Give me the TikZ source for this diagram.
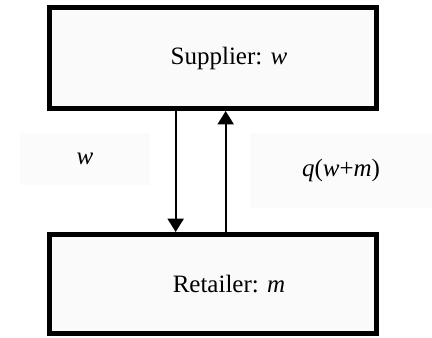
\documentclass[tikz,border=0pt]{standalone}
\usepackage{fontspec}
\setmainfont{Liberation Serif}
\usetikzlibrary{arrows.meta,positioning}

\tikzset{
  agent/.style={draw,line width=3.75pt,fill=black!2,minimum width=245.25pt,inner sep=0pt,font=\fontsize{18.75}{22}\selectfont},
  flowlab/.style={fill=black!1.5,inner sep=0pt,font=\fontsize{18.75}{22}\selectfont},
  flow/.style={line width=1.4pt,-{Triangle[length=10pt,width=12pt]}}
}

\begin{document}
\begin{tikzpicture}[x=0.75pt,y=-0.75pt]
\useasboundingbox (0,0) rectangle (432,337);
% firms
\node[agent,minimum height=75.75pt] (sup) at (213,58) {\hspace*{24pt}Supplier: \textit{w}};
\node[agent,minimum height=74.6pt] (ret) at (213,284.25) {\hspace*{24pt}Retailer: \textit{m}};
% flows between them
\draw[flow] ([xshift=-28pt]sup.south) -- ([xshift=-28pt]ret.north);
\draw[flow] ([xshift=9.5pt]ret.north) -- ([xshift=9.5pt]sup.south);
\node[flowlab,minimum width=97.5pt,minimum height=39pt] (wlab) at (85,159) {\textit{w}};
\node[flowlab,minimum width=136.5pt,minimum height=56pt] (qlab) at (341,170.5) {\textit{q}(\textit{w}+\textit{m})};
\end{tikzpicture}
\end{document}
